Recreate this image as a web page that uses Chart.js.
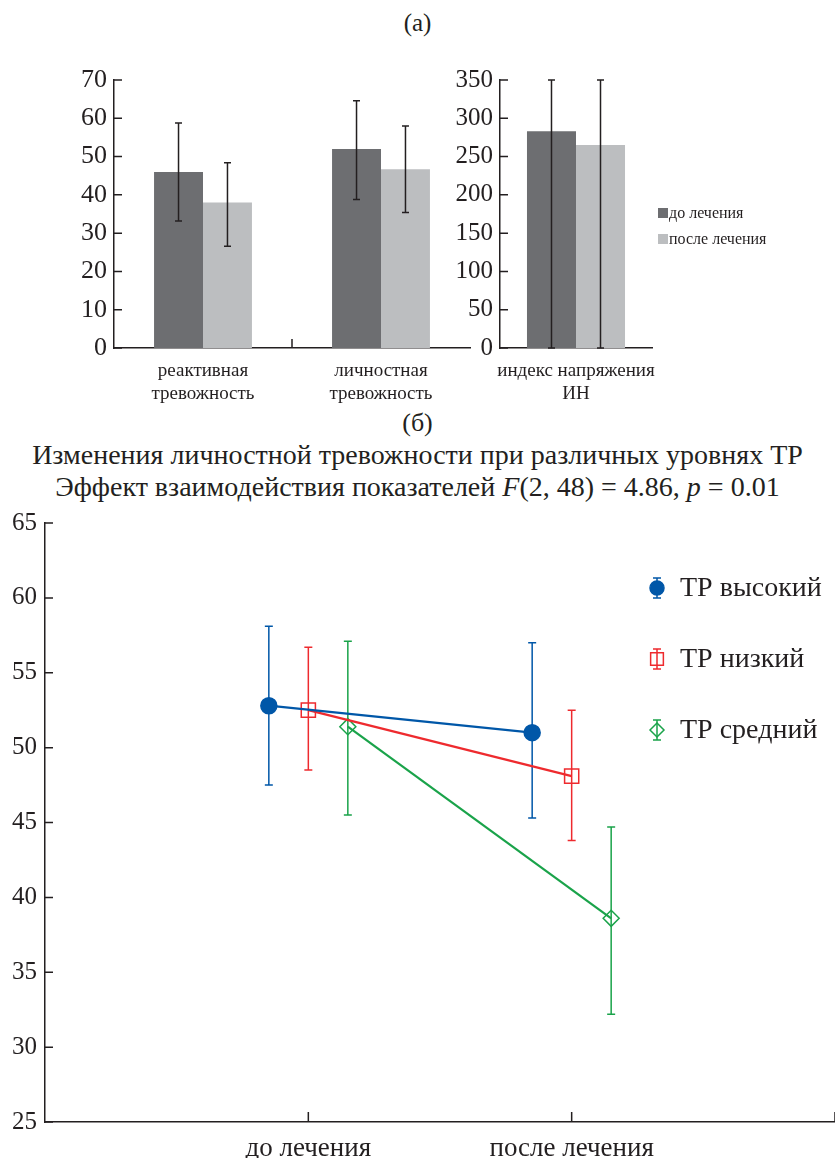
<!DOCTYPE html>
<html>
<head>
<meta charset="utf-8">
<script src="https://cdn.jsdelivr.net/npm/chart.js@4.4.0/dist/chart.umd.min.js"></script>
<style>
    body {
        margin: 0;
        background: #fff;
        width: 835px;
        height: 1158px;
        position: relative;
        overflow: hidden;
        font-family: 'Liberation Serif', serif;
        color: #231f20;
    }
    canvas { position: absolute; }
    .t {
        position: absolute;
        left: 0;
        width: 835px;
        text-align: center;
        line-height: 1;
        white-space: nowrap;
    }
    .key {
        position: absolute;
        left: 658px;
        font-size: 16px;
        line-height: 1;
        display: flex;
        align-items: center;
    }
    .key span {
        display: inline-block;
        width: 10px;
        height: 10px;
        margin-right: 1px;
    }
</style>
</head>
<body>

<div class="t" style="top:10px;font-size:25px">(а)</div>
<div class="t" style="top:410px;font-size:26px">(б)</div>
<div class="t" style="top:441px;font-size:28px">Изменения личностной тревожности при различных уровнях ТР</div>
<div class="t" style="top:473px;font-size:28px">Эффект взаимодействия показателей <i>F</i>(2, 48) = 4.86, <i>p</i> = 0.01</div>

<canvas id="barsLeft" width="480" height="420" style="left:0;top:0"></canvas>
<canvas id="barsRight" width="300" height="420" style="left:400px;top:0"></canvas>
<canvas id="lines" width="835" height="658" style="left:0;top:500px"></canvas>

<div class="key" style="top:205px"><span style="background:#6d6e71"></span>до лечения</div>
<div class="key" style="top:231px"><span style="background:#bcbec0"></span>после лечения</div>

<script>
// -------------------------------------------------------------------------- Data (а)

const ink = '#231f20'
const darkGrey = '#6d6e71'
const lightGrey = '#bcbec0'

const anxietyLabels = [['реактивная', 'тревожность'], ['личностная', 'тревожность']]
const anxietyBefore = [46, 52]
const anxietyBeforeLow = [33.2, 38.8]
const anxietyBeforeHigh = [58.8, 64.6]
const anxietyAfter = [38, 46.7]
const anxietyAfterLow = [26.6, 35.4]
const anxietyAfterHigh = [48.4, 58]

const stressLabels = [['индекс напряжения', 'ИН']]
const stressBefore = [283]
const stressBeforeLow = [0]
const stressBeforeHigh = [350]
const stressAfter = [265]
const stressAfterLow = [0]
const stressAfterHigh = [350]

// -------------------------------------------------------------------------- Data (б)

const periods = ['до лечения', 'после лечения']
const seriesNames = ['ТР высокий', 'ТР низкий', 'ТР средний']
const highMean = [52.8, 51.0]
const highLow = [47.5, 45.3]
const highHigh = [58.1, 57.0]
const lowMean = [52.5, 48.1]
const lowLow = [48.5, 43.8]
const lowHigh = [56.7, 52.5]
const midMean = [51.4, 38.6]
const midLow = [45.5, 32.2]
const midHigh = [57.1, 44.7]

// -------------------------------------------------------------------------- Plugins

function drawErrors(chart, opts) {
    const ctx = chart.ctx
    const y = chart.scales.y
    chart.data.datasets.forEach((ds, i) => {
        const meta = chart.getDatasetMeta(i)
        ctx.save()
        ctx.strokeStyle = ds.errColor || ink
        ctx.lineWidth = opts.width
        ctx.beginPath()
        meta.data.forEach((el, j) => {
            const top = y.getPixelForValue(ds.errHigh[j])
            const bot = y.getPixelForValue(ds.errLow[j])
            ctx.moveTo(el.x, top)
            ctx.lineTo(el.x, bot)
            ctx.moveTo(el.x - opts.cap, top)
            ctx.lineTo(el.x + opts.cap, top)
            ctx.moveTo(el.x - opts.cap, bot)
            ctx.lineTo(el.x + opts.cap, bot)
        })
        ctx.stroke()
        ctx.restore()
    })
}

const errorBars = {
    id: 'errorBars',
    beforeDatasetsDraw(chart, args, opts) {
        if (opts.behind) drawErrors(chart, opts)
    },
    afterDatasetsDraw(chart, args, opts) {
        if (!opts.behind) drawErrors(chart, opts)
    }
}

// ticks pointing into the plot, like the original figure
const innerTicks = {
    id: 'innerTicks',
    afterDraw(chart, args, opts) {
        const {ctx, chartArea: a, scales: {x, y}} = chart
        ctx.save()
        ctx.strokeStyle = ink
        ctx.lineWidth = 1.5
        ctx.beginPath()
        y.ticks.forEach(t => {
            const py = y.getPixelForValue(t.value)
            ctx.moveTo(a.left, py)
            ctx.lineTo(a.left + opts.y, py)
        })
        if (opts.x) {
            x.ticks.forEach(t => {
                if (t.value === x.min) return
                const px = x.getPixelForValue(t.value)
                ctx.moveTo(px, a.bottom)
                ctx.lineTo(px, a.bottom - opts.x)
            })
        }
        if (opts.sep) {
            for (let i = 1; i < x.ticks.length; i++) {
                const px = (x.getPixelForValue(i - 1) + x.getPixelForValue(i)) / 2
                ctx.moveTo(px, a.bottom)
                ctx.lineTo(px, a.bottom - opts.sep)
            }
        }
        ctx.stroke()
        ctx.restore()
    }
}

const seriesLegend = {
    id: 'seriesLegend',
    afterDraw(chart, args, opts) {
        if (!opts.show) return
        const ctx = chart.ctx
        chart.data.datasets.forEach((ds, i) => {
            const x = opts.x
            const y = opts.y + i * opts.step
            ctx.save()
            ctx.strokeStyle = ds.borderColor
            ctx.lineWidth = 1.5
            ctx.beginPath()
            ctx.moveTo(x, y - 10)
            ctx.lineTo(x, y + 10)
            ctx.moveTo(x - 4, y - 10)
            ctx.lineTo(x + 4, y - 10)
            ctx.moveTo(x - 4, y + 10)
            ctx.lineTo(x + 4, y + 10)
            ctx.stroke()
            ctx.fillStyle = ds.pointBackgroundColor
            Chart.helpers.drawPoint(ctx, {
                pointStyle: ds.pointStyle,
                radius: ds.pointRadius - 1,
                borderWidth: 1.5,
                rotation: 0
            }, x, y)
            ctx.fillStyle = ink
            ctx.font = '28px "Liberation Serif"'
            ctx.textBaseline = 'middle'
            ctx.fillText(ds.label, x + 23, y + 1)
            ctx.restore()
        })
    }
}

Chart.register(errorBars, innerTicks, seriesLegend)

// -------------------------------------------------------------------------- Bar charts (а)

function barConfig(labels, before, bLow, bHigh, after, aLow, aHigh, yMax, step, catPct, pad, yWidth, tickSize, sep) {
    return {
        type: 'bar',
        data: {
            labels: labels,
            datasets: [{
                label: 'до лечения',
                data: before,
                backgroundColor: darkGrey,
                errLow: bLow,
                errHigh: bHigh
            }, {
                label: 'после лечения',
                data: after,
                backgroundColor: lightGrey,
                errLow: aLow,
                errHigh: aHigh
            }]
        },
        options: {
            responsive: false,
            animation: false,
            layout: { padding: pad, autoPadding: false },
            datasets: { bar: { categoryPercentage: catPct, barPercentage: 1 } },
            plugins: {
                legend: { display: false },
                tooltip: { enabled: false },
                errorBars: { behind: false, width: 1.5, cap: 3.5 },
                innerTicks: { y: 8, sep: sep }
            },
            scales: {
                x: {
                    grid: { display: false, drawTicks: false },
                    border: { display: true, color: ink, width: 1.5 },
                    ticks: { color: ink, padding: 12, font: { family: 'Liberation Serif', size: 19, lineHeight: 1.2 } },
                    afterFit: s => { s.height = 72 }
                },
                y: {
                    min: 0,
                    max: yMax,
                    grid: { display: false, drawTicks: false },
                    border: { display: true, color: ink, width: 1.5 },
                    ticks: { stepSize: step, color: ink, padding: 7, font: { family: 'Liberation Serif', size: tickSize } },
                    afterFit: s => { s.width = yWidth }
                }
            }
        }
    }
}

const configBarsLeft = barConfig(anxietyLabels, anxietyBefore, anxietyBeforeLow, anxietyBeforeHigh,
    anxietyAfter, anxietyAfterLow, anxietyAfterHigh, 70, 10, 0.55,
    { top: 80, right: 10, left: 0, bottom: 0 }, 114, 26, 9)

const configBarsRight = barConfig(stressLabels, stressBefore, stressBeforeLow, stressBeforeHigh,
    stressAfter, stressAfterLow, stressAfterHigh, 350, 50, 0.645,
    { top: 80, right: 48, left: 0, bottom: 0 }, 100, 25, 0)

// -------------------------------------------------------------------------- Line chart (б)

const seriesColors = ['#0057a8', '#ee2a2e', '#1aa34a']
const seriesMeans = [highMean, lowMean, midMean]
const seriesLows = [highLow, lowLow, midLow]
const seriesHighs = [highHigh, lowHigh, midHigh]
const seriesStyles = ['circle', 'rect', 'rectRot']
const seriesRadius = [8, 10, 8]
const dodge = [-0.15, 0, 0.15]

const lineDatasets = seriesNames.map((name, i) => ({
    label: name,
    data: periods.map((p, j) => ({ x: j + 1 + dodge[i], y: seriesMeans[i][j] })),
    borderColor: seriesColors[i],
    borderWidth: 2.2,
    pointStyle: seriesStyles[i],
    pointRadius: seriesRadius[i],
    pointBorderWidth: 1.5,
    pointBorderColor: seriesColors[i],
    pointBackgroundColor: i === 0 ? seriesColors[i] : 'rgba(255,255,255,0)',
    errColor: seriesColors[i],
    errLow: seriesLows[i],
    errHigh: seriesHighs[i]
}))

const configLines = {
    type: 'line',
    data: { datasets: lineDatasets },
    options: {
        responsive: false,
        animation: false,
        layout: { padding: { top: 18, right: 0, left: 0, bottom: 0 }, autoPadding: false },
        plugins: {
            legend: { display: false },
            tooltip: { enabled: false },
            errorBars: { behind: true, width: 1.5, cap: 4 },
            innerTicks: { y: 8, x: 10 },
            seriesLegend: { show: true, x: 657, y: 88, step: 71 }
        },
        scales: {
            x: {
                type: 'linear',
                min: 0,
                max: 3,
                grid: { display: false, drawTicks: false },
                border: { display: true, color: ink, width: 1.5 },
                ticks: {
                    stepSize: 1,
                    color: ink,
                    padding: 11,
                    font: { family: 'Liberation Serif', size: 27 },
                    callback: v => periods[v - 1] || ''
                },
                // keep the axis running to the right edge of the figure
                afterFit: s => {
                    s.height = 36
                    s.paddingLeft = 0
                    s.paddingRight = 0
                }
            },
            y: {
                min: 25,
                max: 65,
                grid: { display: false, drawTicks: false },
                border: { display: true, color: ink, width: 1.5 },
                ticks: { stepSize: 5, color: ink, padding: 8, font: { family: 'Liberation Serif', size: 25 } },
                afterFit: s => { s.width = 45 }
            }
        }
    }
}

// -------------------------------------------------------------------------- Render Charts

let barsLeft = new Chart(document.getElementById('barsLeft'), configBarsLeft)
let barsRight = new Chart(document.getElementById('barsRight'), configBarsRight)
let lines = new Chart(document.getElementById('lines'), configLines)
</script>
</body>
</html>
